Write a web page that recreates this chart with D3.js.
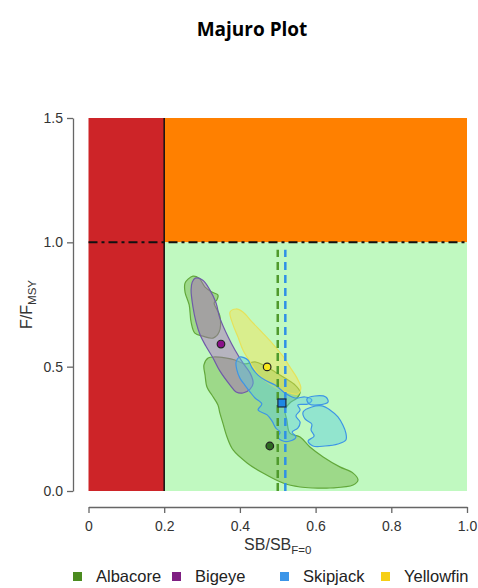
<!DOCTYPE html>
<html>
<head>
<meta charset="utf-8">
<script src="https://cdn.jsdelivr.net/npm/d3@7"></script>
<style>
  body { margin: 0; background: #fff; }
  text { font-family: "Liberation Sans", Arial, sans-serif; }
</style>
</head>
<body>
<svg id="main" width="478" height="588"></svg>
<script>
// tick values and labels
const xTicks = [0, 0.2, 0.4, 0.6, 0.8, 1.0];
const xTickLabels = ["0", "0.2", "0.4", "0.6", "0.8", "1.0"];
const yTicks = [0, 0.5, 1.0, 1.5];
const yTickLabels = ["0.0", "0.5", "1.0", "1.5"];

// zones: SB/SB_F=0 limit 0.2, F/F_MSY limit 1
const sbLimit = 0.2;
const fLimit = 1.0;

// species order, colours
const species = ["Albacore", "Bigeye", "Skipjack", "Yellowfin"];
const legendColors = ["#4b8b1f", "#7f1f82", "#3b95e8", "#f6cf16"];

// latest estimates (SB/SB_F=0, F/F_MSY)
const albacorePoint = [0.479, 0.181];
const bigeyePoint = [0.350, 0.591];
const skipjackPoint = [0.511, 0.354];
const yellowfinPoint = [0.472, 0.499];

// median depletion lines
const albacoreMedian = 0.50;
const skipjackMedian = 0.52;
const medianTop = 0.97;

// uncertainty regions
const albacoreUpper = [
  [0.263,0.852],[0.276,0.864],[0.292,0.856],[0.308,0.820],[0.326,0.800],[0.342,0.788],
  [0.339,0.768],[0.332,0.756],[0.347,0.704],[0.345,0.639],[0.329,0.615],[0.302,0.623],
  [0.281,0.635],[0.271,0.680],[0.266,0.748],[0.255,0.800],[0.255,0.836]
];
const albacoreMain = [
  [0.316,0.535],[0.334,0.539],[0.361,0.535],[0.387,0.527],[0.413,0.511],[0.440,0.519],
  [0.466,0.503],[0.493,0.479],[0.519,0.454],[0.546,0.426],[0.559,0.398],[0.551,0.374],
  [0.532,0.354],[0.519,0.326],[0.524,0.286],[0.532,0.233],[0.559,0.217],[0.585,0.177],
  [0.620,0.137],[0.664,0.097],[0.699,0.072],[0.712,0.044],[0.699,0.024],[0.638,0.012],
  [0.593,0.012],[0.559,0.016],[0.514,0.032],[0.461,0.072],[0.419,0.113],[0.382,0.165],
  [0.366,0.217],[0.355,0.273],[0.347,0.314],[0.342,0.346],[0.326,0.386],[0.313,0.418],
  [0.308,0.466],[0.305,0.507]
];
const bigeyeRegion = [
  [0.282,0.856],[0.302,0.848],[0.321,0.808],[0.337,0.756],[0.347,0.696],[0.369,0.619],
  [0.387,0.567],[0.408,0.515],[0.427,0.474],[0.435,0.434],[0.427,0.410],[0.408,0.394],
  [0.390,0.398],[0.374,0.426],[0.347,0.483],[0.329,0.535],[0.310,0.583],[0.295,0.627],
  [0.284,0.680],[0.276,0.740],[0.271,0.808],[0.274,0.840]
];
const yellowfinRegion = [
  [0.374,0.720],[0.390,0.732],[0.408,0.720],[0.432,0.680],[0.458,0.639],[0.485,0.595],
  [0.511,0.547],[0.532,0.499],[0.551,0.454],[0.561,0.414],[0.553,0.390],[0.532,0.394],
  [0.506,0.406],[0.474,0.434],[0.448,0.470],[0.427,0.519],[0.408,0.567],[0.395,0.619],
  [0.382,0.668]
];
const skipjackMain = [
  [0.400,0.539],[0.421,0.527],[0.432,0.495],[0.448,0.466],[0.466,0.446],[0.493,0.426],
  [0.519,0.394],[0.546,0.374],[0.572,0.378],[0.590,0.366],[0.580,0.350],[0.553,0.346],
  [0.559,0.326],[0.548,0.302],[0.559,0.277],[0.553,0.253],[0.538,0.237],[0.548,0.217],
  [0.532,0.201],[0.514,0.201],[0.501,0.217],[0.506,0.237],[0.495,0.253],[0.485,0.281],
  [0.472,0.306],[0.448,0.326],[0.458,0.350],[0.440,0.374],[0.427,0.398],[0.413,0.426],
  [0.400,0.454],[0.392,0.487],[0.390,0.519]
];
const skipjackIsland = [
  [0.567,0.318],[0.590,0.338],[0.617,0.342],[0.638,0.326],[0.659,0.298],[0.672,0.265],
  [0.680,0.233],[0.680,0.205],[0.659,0.189],[0.625,0.181],[0.593,0.181],[0.580,0.201],
  [0.596,0.221],[0.588,0.245],[0.590,0.269],[0.572,0.290]
];
const skipjackSmall = [
  [0.577,0.370],[0.598,0.382],[0.627,0.378],[0.633,0.358],[0.606,0.346],[0.583,0.350]
];

const svg = d3.select("#main");
const x = d3.scaleLinear().domain([0, 1]).range([88.5, 467]);
const y = d3.scaleLinear().domain([0, 1.5]).range([491, 118]);

// title
svg.append("text")
  .attr("x", 252).attr("y", 36)
  .attr("text-anchor", "middle")
  .style("font-family", "'Open Sans', sans-serif")
  .style("font-weight", "bold")
  .style("font-size", "19px")
  .text("Majuro Plot");

// background zones
svg.append("rect")
  .attr("x", x(0)).attr("y", y(1.5))
  .attr("width", x(sbLimit) - x(0)).attr("height", y(0) - y(1.5))
  .attr("fill", "#cd2428");
svg.append("rect")
  .attr("x", x(sbLimit)).attr("y", y(1.5))
  .attr("width", x(1) - x(sbLimit)).attr("height", y(fLimit) - y(1.5))
  .attr("fill", "#ff8000");
svg.append("rect")
  .attr("x", x(sbLimit)).attr("y", y(fLimit))
  .attr("width", x(1) - x(sbLimit)).attr("height", y(0) - y(fLimit))
  .attr("fill", "#c0f9c0");

// regions
const line = d3.line().x(d => x(d[0])).y(d => y(d[1])).curve(d3.curveCatmullRomClosed.alpha(0.5));
const regions = [
  { pts: albacoreUpper, fill: "#74b148", op: 0.45, stroke: "#62a83a" },
  { pts: albacoreMain, fill: "#74b148", op: 0.45, stroke: "#62a83a" },
  { pts: bigeyeRegion, fill: "#aa5fbe", op: 0.45, stroke: "#6f5aa8" },
  { pts: yellowfinRegion, fill: "#fcdf48", op: 0.42, stroke: "#e6e25a" },
  { pts: skipjackMain, fill: "#5ccbe0", op: 0.45, stroke: "#3d95e6" },
  { pts: skipjackIsland, fill: "#5ccbe0", op: 0.45, stroke: "#3d95e6" },
  { pts: skipjackSmall, fill: "#5ccbe0", op: 0.45, stroke: "#3d95e6" }
];
svg.append("g").selectAll("path")
  .data(regions)
  .join("path")
  .attr("d", d => line(d.pts))
  .attr("fill", d => d.fill)
  .attr("fill-opacity", d => d.op)
  .attr("stroke", d => d.stroke)
  .attr("stroke-width", 1.2);

// reference lines
svg.append("line")
  .attr("x1", x(sbLimit)).attr("x2", x(sbLimit))
  .attr("y1", y(0)).attr("y2", y(1.5))
  .attr("stroke", "#111").attr("stroke-width", 1.5);
svg.append("line")
  .attr("x1", x(0)).attr("x2", x(1))
  .attr("y1", y(fLimit)).attr("y2", y(fLimit))
  .attr("stroke", "#111").attr("stroke-width", 2)
  .attr("stroke-dasharray", "9,4,3,4");

// median lines
svg.append("line")
  .attr("x1", x(albacoreMedian)).attr("x2", x(albacoreMedian))
  .attr("y1", y(0)).attr("y2", y(medianTop))
  .attr("stroke", "#4f9a2c").attr("stroke-width", 2.5)
  .attr("stroke-dasharray", "8,5");
svg.append("line")
  .attr("x1", x(skipjackMedian)).attr("x2", x(skipjackMedian))
  .attr("y1", y(0)).attr("y2", y(medianTop))
  .attr("stroke", "#2f90e6").attr("stroke-width", 2.5)
  .attr("stroke-dasharray", "8,5");

// points
const circles = [
  { p: albacorePoint, fill: "#2f6a22" },
  { p: bigeyePoint, fill: "#8a0f8a" },
  { p: yellowfinPoint, fill: "#f8e81c" }
];
svg.append("g").selectAll("circle")
  .data(circles)
  .join("circle")
  .attr("cx", d => x(d.p[0]))
  .attr("cy", d => y(d.p[1]))
  .attr("r", 3.8)
  .attr("fill", d => d.fill)
  .attr("stroke", "#222")
  .attr("stroke-width", 1.2);
svg.append("rect")
  .attr("x", x(skipjackPoint[0]) - 4).attr("y", y(skipjackPoint[1]) - 4)
  .attr("width", 8).attr("height", 8)
  .attr("fill", "#1e88e5")
  .attr("stroke", "#1a2a40").attr("stroke-width", 1.2);

// axes
const xAxis = svg.append("g")
  .attr("transform", "translate(0,507)")
  .call(d3.axisBottom(x).tickValues(xTicks).tickSize(6).tickSizeOuter(0)
    .tickFormat((d, i) => xTickLabels[i]));
const yAxis = svg.append("g")
  .attr("transform", "translate(73,0)")
  .call(d3.axisLeft(y).tickValues(yTicks).tickSize(6).tickSizeOuter(0)
    .tickFormat((d, i) => yTickLabels[i]));
[xAxis, yAxis].forEach(a => {
  a.select(".domain").attr("stroke", "#666").attr("stroke-width", 1.3);
  a.selectAll(".tick line").attr("stroke", "#666").attr("stroke-width", 1.3);
  a.selectAll(".tick text")
    .attr("fill", "#333")
    .style("font-family", "'Liberation Sans', Arial, sans-serif")
    .style("font-size", "14px");
});
xAxis.selectAll(".tick text").attr("dy", "1.05em");
yAxis.selectAll(".tick text").attr("x", -10);

// axis titles
const xt = svg.append("text")
  .attr("x", x(0.5)).attr("y", 550)
  .attr("text-anchor", "middle")
  .attr("fill", "#333")
  .style("font-size", "16px");
xt.append("tspan").text("SB/SB");
xt.append("tspan").attr("dy", 4).style("font-size", "11.5px").text("F=0");

const yt = svg.append("text")
  .attr("transform", `translate(32,${y(0.75)}) rotate(-90)`)
  .attr("text-anchor", "middle")
  .attr("fill", "#333")
  .style("font-size", "16px");
yt.append("tspan").text("F/F");
yt.append("tspan").attr("dy", 4).style("font-size", "11.5px").text("MSY");

// legend
const legendX = [73, 172, 280, 381];
const legend = svg.append("g").selectAll("g")
  .data(species)
  .join("g")
  .attr("transform", (d, i) => `translate(${legendX[i]},572)`);
legend.append("rect")
  .attr("width", 9).attr("height", 9)
  .attr("fill", (d, i) => legendColors[i]);
legend.append("text")
  .attr("x", 23).attr("y", 10)
  .attr("fill", "#222")
  .style("font-size", "16.5px")
  .text(d => d);
</script>
</body>
</html>
